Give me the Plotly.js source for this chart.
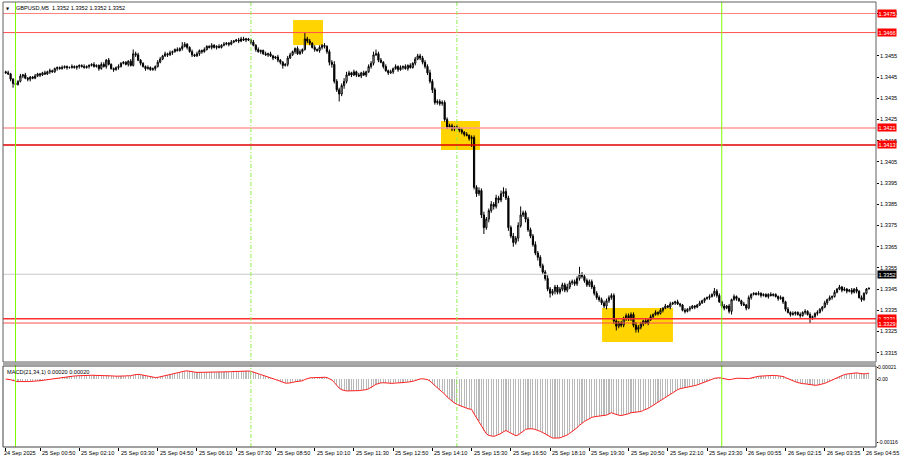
<!DOCTYPE html>
<html><head><meta charset="utf-8">
<script src="https://cdn.plot.ly/plotly-3.0.1.min.js"></script>
<style>html,body{margin:0;padding:0;background:#fff}#chart{width:900px;height:460px}</style>
</head><body><div id="chart"></div>
<script>
// ---------------- DATA ----------------
const symbol = 'GBPUSD,M5';
const lastQuote = ['1.3352', '1.3352', '1.3352', '1.3352'];
const priceBase = 1.3300;           // closes are given in pips above this
const firstOpenPips = 147.5;
const closePips = [
  147, 146.5, 144, 142, 141.5, 143, 145.5, 146, 144.5, 144,
  145, 144.5, 145.5, 146.5, 146, 147, 146.5, 147.5, 148, 147.5,
  149, 149.5, 149, 149.5, 150, 149.5, 149.5, 150, 149.5, 150,
  150.5, 150, 149.5, 150, 150.5, 151, 150, 150.5, 149, 151,
  150, 153, 151, 149, 148.5, 149.5, 150, 151.5, 152, 151,
  152.5, 150.5, 156, 155.5, 153, 151.5, 150, 149, 149.5, 148.5,
  149, 150, 152, 153.5, 155, 156, 155.5, 156.5, 157, 158,
  157.5, 158.5, 159.5, 160.5, 159, 157, 155.5, 155, 156, 157.5,
  157, 158, 159.5, 159, 160, 159, 159.5, 159, 160, 160.5,
  161, 160.5, 161.5, 162, 162.5, 162, 163, 162.5, 163, 162.5,
  161.5, 160, 158, 157, 157.5, 156, 155.5, 156, 155, 154,
  154.5, 153, 152, 150.5, 151, 154, 155.5, 157, 158.5, 156,
  157, 158, 163, 162, 161, 159, 158, 157.5, 159, 160,
  159.5, 157, 152, 151, 143, 139, 137, 141, 143, 146,
  147, 146, 147.5, 146, 145.5, 147, 146, 147.5, 150, 151.5,
  155.5, 156, 153, 152, 150, 148, 147, 147.5, 149, 150,
  148.5, 149.5, 150, 149, 150.5, 149.5, 151.5, 153.5, 155, 154,
  152, 150, 147, 143, 139, 133, 133.5, 132.5, 133, 125,
  121.5, 122, 120.5, 121.5, 121, 120, 119, 118, 117.5, 116,
  116.5, 93, 90, 91.5, 80, 74, 78, 82, 85, 84,
  88, 87, 90, 91, 88, 74, 70, 67, 69, 75,
  80, 81, 78, 73, 70, 66, 62, 60, 56, 53,
  50, 45, 43, 44, 46, 43.5, 45, 47, 44.5, 46,
  48, 48.5, 47.5, 50, 52, 51, 49, 47, 48.5, 46,
  43, 41, 40, 38.5, 37, 39.5, 41, 42, 30, 27.5,
  29, 28, 31, 32.5, 31, 33, 28, 26, 27, 28.5,
  30, 29, 30.5, 32, 33, 34, 33.5, 35, 36, 37,
  36.5, 38, 38.5, 39, 38, 37.5, 35, 34.5, 35.5, 36,
  37, 36.5, 37.5, 38.5, 39.5, 40.5, 41, 41.5, 42.5, 44,
  42, 39, 37, 36, 37, 34.5, 40, 41.5, 40.5, 39.5,
  38, 37.5, 36, 41, 42.5, 43, 42.5, 43, 42, 42.5,
  41.5, 42.5, 42, 42.5, 41.5, 40.5, 41, 39, 35.5, 34,
  33, 33.5, 34, 33, 32.5, 34, 34.5, 33, 31.5, 32,
  33.5, 34, 35.5, 36.5, 38.5, 40, 41, 41.5, 43.5, 45,
  46, 44.5, 45, 44, 44.5, 43.5, 45, 44, 41, 40,
  43, 45, 45.5
];
// estimated wick lengths per bar, in half-pips (one character per bar)
const upperWickHalfPips = [
  '1211212121','1121112121','1112111211','1121112112','2121112111',
  '1242211121','1122121211','2112112121','1211211212','1121121211',
  '1212112121','1211122112','2132212121','2122322233','2121212122',
  '3222121212','1212121222','2223222222','2221212121','2223232232',
  '3232322323','3222223222','2322222223','2222322222','2222222222',
  '2222222322','1212121212','1211211212','1112111212','2212121211',
  '1212111211','1121112112','1211212121','1211212121','2121121212','110'
].join('');
const lowerWickHalfPips = [
  '1122111212','2111211121','1211121112','2111211121','1211212111',
  '2112121211','1211112121','1121212112','2111212111','1211121121',
  '2121211212','1222121121','1212212122','2233223232','1212121212',
  '2121212121','2121211212','2222322222','2122122212','3232332323',
  '2323232323','2232222322','2232322222','2222222222','2222232232',
  '2222222232','2121212121','1212121212','1211121212','2122122121',
  '2121211121','1211121221','2121212122','1212121211','1212121212','110'
].join('');
// notable wick extremes (bar index -> pips)
const highPips = {52:158, 72:161.5, 73:161.5, 96:164, 122:166, 151:158, 169:156, 203:93, 210:84, 234:55.5, 289:45.5};
const lowPips  = {3:140, 113:149, 136:133.5, 190:112, 195:71, 207:65, 222:41, 249:25.5, 257:24.5, 296:33, 328:29};

const levelPrices  = [1.3475, 1.3466, 1.3421, 1.3413, 1.3331, 1.3329];
const levelLabels  = ['1.3475', '1.3466', '1.3421', '1.3413', '1.3331', '1.3329'];
const currentPrice = 1.3352;
const currentLabel = '1.3352';

const priceTicks = [1.3315, 1.3325, 1.3335, 1.3345, 1.3355, 1.3365, 1.3375, 1.3385, 1.3395, 1.3405, 1.3415, 1.3425, 1.3435, 1.3445, 1.3455, 1.3475];
const priceTickLabels = ['1.3315','1.3325','1.3335','1.3345','1.3355','1.3365','1.3375','1.3385','1.3395','1.3405','1.3415','1.3425','1.3435','1.3445','1.3455','1.3475'];

const timeTickBars = [0, 14, 30, 46, 62, 78, 94, 110, 126, 142, 158, 174, 190, 206, 222, 238, 254, 270, 286, 302, 318, 334, 350];
const timeTickLabels = ['24 Sep 2025','25 Sep 00:50','25 Sep 02:10','25 Sep 03:30','25 Sep 04:50','25 Sep 06:10','25 Sep 07:30','25 Sep 08:50','25 Sep 10:10','25 Sep 11:30','25 Sep 12:50','25 Sep 14:10','25 Sep 15:30','25 Sep 16:50','25 Sep 18:10','25 Sep 19:30','25 Sep 20:50','25 Sep 22:10','25 Sep 23:30','26 Sep 00:55','26 Sep 02:15','26 Sep 03:35','26 Sep 04:55'];

const dayStartBars = [4, 292];        // 00:00 separators (solid green)
const eventBars = [100, 184];          // dashed green markers
const zoneBarFrom = [117.2, 177.5, 243.2];
const zoneBarTo   = [129.4, 193.4, 272.1];
const zoneHigh    = [1.34719, 1.34243, 1.33361];
const zoneLow     = [1.34601, 1.34106, 1.33200];

const macdFast = 21, macdSlow = 34, macdSignal = 1;
const macdLabelValues = ['0.00020', '0.00020'];
const macdTicks = [0.00021, 0, -0.00116];
const macdTickLabels = ['0.00021', '0.00', '-0.00116'];

// ---------------- BUILD ----------------
const bars = closePips.map((_, i) => i);
const toPrice = p => +(priceBase + p / 10000).toFixed(5);
const close = closePips.map(toPrice);
const open = close.map((c, i) => i === 0 ? toPrice(firstOpenPips) : close[i - 1]);
const high = close.map((c, i) => {
  const body = Math.max(open[i], c) + (+upperWickHalfPips[i] || 0) * 0.00005;
  return highPips[i] != null ? Math.max(toPrice(highPips[i]), body) : body;
});
const low = close.map((c, i) => {
  const body = Math.min(open[i], c) - (+lowerWickHalfPips[i] || 0) * 0.00005;
  return lowPips[i] != null ? Math.min(toPrice(lowPips[i]), body) : body;
});

function ema(arr, n) {
  const a = 2 / (n + 1); let e = arr[0];
  return arr.map((v, i) => (e = i === 0 ? v : a * v + (1 - a) * e));
}
const eF = ema(close, macdFast), eS = ema(close, macdSlow);
const macd = close.map((_, i) => eF[i] - eS[i]);

const FONT = 'Liberation Sans, Arial, sans-serif';
const FS = 5.6;
const mainBottom = 0.191, macdTop = 0.182;

const traces = [
  {type: 'candlestick', x: bars, open, high, low, close, xaxis: 'x', yaxis: 'y',
   increasing: {line: {color: '#000', width: 1}, fillcolor: '#fff'},
   decreasing: {line: {color: '#000', width: 1}, fillcolor: '#000'},
   whiskerwidth: 0, hoverinfo: 'skip'},
  {type: 'bar', x: bars, y: macd, xaxis: 'x', yaxis: 'y2', width: 0.45,
   marker: {color: '#b8b8b8', line: {width: 0}}, hoverinfo: 'skip'},
  {type: 'scatter', mode: 'lines', x: bars, y: macd, xaxis: 'x', yaxis: 'y2',
   line: {color: '#ff2020', width: 1}, hoverinfo: 'skip'}
];

const shapes = [];
zoneBarFrom.forEach((f, k) => shapes.push({type: 'rect', xref: 'x', yref: 'y', x0: f, x1: zoneBarTo[k], y0: zoneLow[k], y1: zoneHigh[k], fillcolor: '#ffd400', line: {width: 0}, layer: 'below'}));
shapes.push({type: 'line', xref: 'paper', yref: 'y', x0: 0, x1: 1, y0: currentPrice, y1: currentPrice, line: {color: '#c8c8c8', width: 1}});
const levelColors = ['#ff8080', '#ff5050', '#ff9a9a', '#e00000', '#ff3030', '#ff5050'];
const levelWidths = [1, 1, 1.5, 1.5, 1.5, 1];
levelPrices.forEach((p, k) => shapes.push({type: 'line', xref: 'paper', yref: 'y', x0: 0, x1: 1, y0: p, y1: p, line: {color: levelColors[k], width: levelWidths[k]}}));
dayStartBars.forEach(b => shapes.push({type: 'line', xref: 'x', yref: 'paper', x0: b, x1: b, y0: 0, y1: 1, line: {color: '#7cfc00', width: 1}}));
eventBars.forEach(b => shapes.push({type: 'line', xref: 'x', yref: 'paper', x0: b, x1: b, y0: 0, y1: 1, line: {color: '#8ef04a', width: 1, dash: '4px,2px,1px,2px'}}));
shapes.push({type: 'rect', xref: 'paper', yref: 'paper', x0: 0, x1: 1, y0: mainBottom, y1: 1, line: {color: '#606060', width: 1}});
shapes.push({type: 'rect', xref: 'paper', yref: 'paper', x0: 0, x1: 1, y0: mainBottom - 0.007, y1: mainBottom, fillcolor: '#a8a8a8', line: {width: 0}});
shapes.push({type: 'rect', xref: 'paper', yref: 'paper', x0: 0, x1: 1, y0: 0, y1: macdTop, line: {color: '#404040', width: 1}});

const annotations = [];
timeTickBars.forEach((b, k) => annotations.push({xref: 'x', yref: 'paper', x: b, y: 0, xanchor: 'left', yanchor: 'top', xshift: k === 0 ? -4 : 0, yshift: -1, text: timeTickLabels[k], showarrow: false, font: {family: FONT, size: FS, color: '#000'}}));
levelPrices.forEach((p, k) => annotations.push({xref: 'paper', yref: 'y', x: 1, y: p, xanchor: 'left', yanchor: 'middle', xshift: 1, text: levelLabels[k], showarrow: false, bgcolor: '#ff0000', borderpad: 0.5, font: {family: FONT, size: FS, color: '#fff'}}));
annotations.push({xref: 'paper', yref: 'y', x: 1, y: currentPrice, xanchor: 'left', yanchor: 'middle', xshift: 1, text: currentLabel, showarrow: false, bgcolor: '#000', borderpad: 0.5, font: {family: FONT, size: FS, color: '#fff'}});
annotations.push({xref: 'paper', yref: 'paper', x: 0, y: 1, xanchor: 'left', yanchor: 'top', xshift: 1, yshift: -2, text: '▼', showarrow: false, font: {family: 'DejaVu Sans', size: 4, color: '#000'}});
annotations.push({xref: 'paper', yref: 'paper', x: 0, y: 1, xanchor: 'left', yanchor: 'top', xshift: 11, yshift: -1, text: symbol + '  ' + lastQuote.join(' '), showarrow: false, font: {family: FONT, size: FS, color: '#000'}});
annotations.push({xref: 'paper', yref: 'paper', x: 0, y: macdTop, xanchor: 'left', yanchor: 'top', xshift: 2, yshift: -1, text: 'MACD(' + macdFast + ',' + macdSlow + ',' + macdSignal + ') ' + macdLabelValues.join(' '), showarrow: false, font: {family: FONT, size: FS, color: '#000'}});

const layout = {
  width: 900, height: 460, margin: {l: 3, r: 24, t: 2, b: 13, pad: 0},
  paper_bgcolor: '#fff', plot_bgcolor: '#fff', showlegend: false, bargap: 0,
  font: {family: FONT, size: FS, color: '#000'},
  xaxis: {range: [-1.1, 354.9], anchor: 'y2', showgrid: false, zeroline: false, showline: false,
          tickvals: timeTickBars, showticklabels: false, ticks: 'outside', ticklen: 3, tickcolor: '#000', tickwidth: 1,
          rangeslider: {visible: false}, fixedrange: true},
  yaxis: {domain: [mainBottom, 1], range: [1.331061, 1.348042], side: 'right', anchor: 'x',
          tickvals: priceTicks, ticktext: priceTickLabels, ticks: 'outside', ticklen: 2, tickcolor: '#000',
          showgrid: false, zeroline: false, showline: false, tickfont: {family: FONT, size: FS, color: '#000'}, fixedrange: true},
  yaxis2: {domain: [0, macdTop], range: [-0.00125, 0.00024], side: 'right', anchor: 'x',
          tickvals: macdTicks, ticktext: macdTickLabels, ticks: 'outside', ticklen: 1, tickcolor: '#000', ticklabelstandoff: -1,
          showgrid: false, zeroline: false, showline: false, tickfont: {family: FONT, size: 5.1, color: '#000'}, fixedrange: true},
  shapes, annotations
};

Plotly.newPlot('chart', traces, layout, {staticPlot: true, displayModeBar: false});
</script>
</body></html>
